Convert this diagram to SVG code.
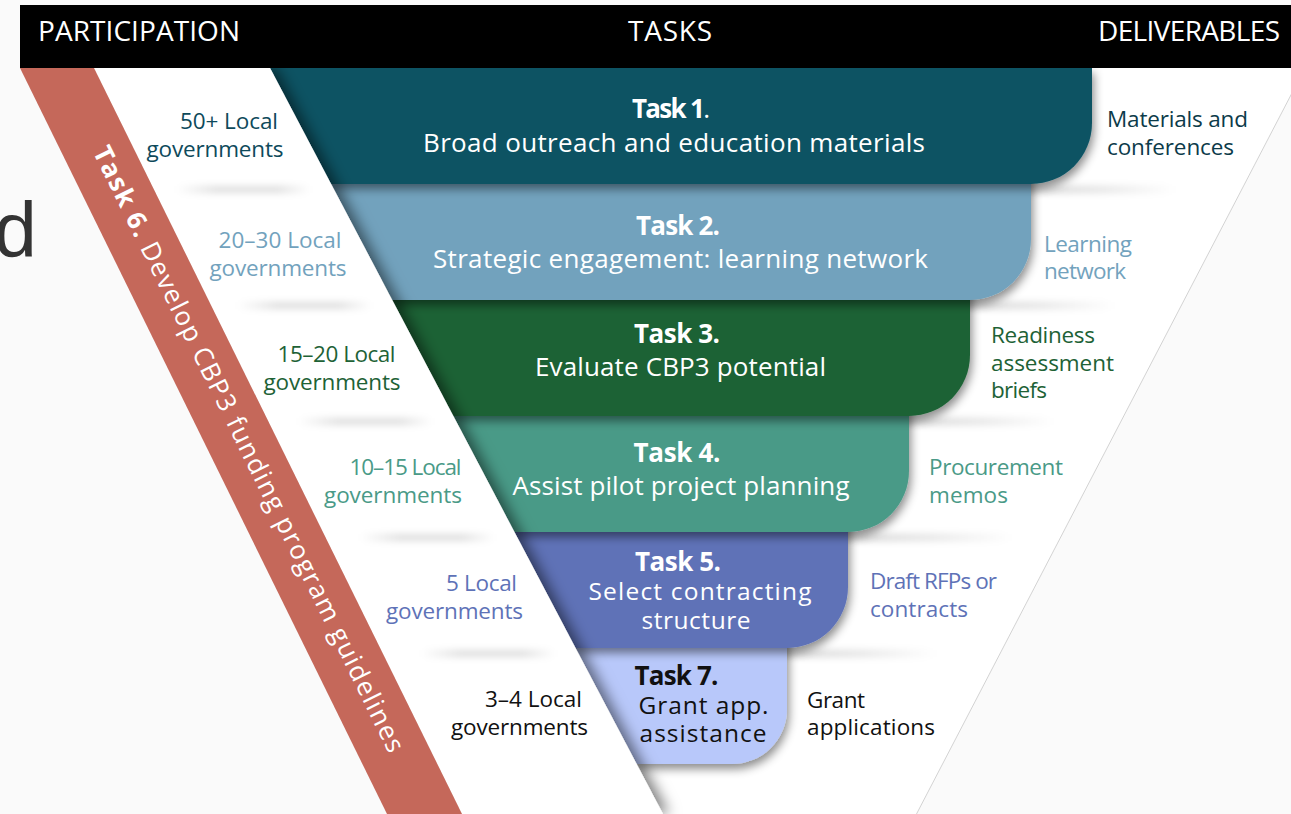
<svg xmlns="http://www.w3.org/2000/svg" width="1291" height="814" viewBox="0 0 1291 814">
  <defs>
    <style>
      .t { font-family: 'Open Sans', 'Noto Sans', 'DejaVu Sans', sans-serif; }
      .hd { font-size: 28px; fill: #ffffff; }
      .bx { font-size: 26px; fill: #ffffff; }
      .bs { font-size: 24.5px; fill: #ffffff; }
      .bb { font-size: 26px; font-weight: 700; fill: #ffffff; }
      .lb { font-size: 22.5px; }
      .k { fill: #111111; }
    </style>
    <filter id="boxShadow" x="-10%" y="-20%" width="125%" height="150%">
      <feDropShadow dx="2" dy="5" stdDeviation="5" flood-color="#000" flood-opacity="0.45"/>
    </filter>
    <filter id="bandShadow" x="-20%" y="-5%" width="150%" height="110%">
      <feDropShadow dx="6" dy="0" stdDeviation="7" flood-color="#000" flood-opacity="0.5"/>
    </filter>
    <filter id="soft" x="-50%" y="-300%" width="200%" height="700%">
      <feGaussianBlur stdDeviation="3.5"/>
    </filter>
    <linearGradient id="fadeL" x1="0" y1="0" x2="1" y2="0">
      <stop offset="0" stop-color="#000" stop-opacity="0"/>
      <stop offset="0.3" stop-color="#000" stop-opacity="0.13"/>
      <stop offset="0.75" stop-color="#000" stop-opacity="0.13"/>
      <stop offset="1" stop-color="#000" stop-opacity="0"/>
    </linearGradient>
    <linearGradient id="fadeR" x1="0" y1="0" x2="1" y2="0">
      <stop offset="0" stop-color="#000" stop-opacity="0.18"/>
      <stop offset="0.55" stop-color="#000" stop-opacity="0.1"/>
      <stop offset="1" stop-color="#000" stop-opacity="0"/>
    </linearGradient>
  </defs>

  <!-- background -->
  <rect x="0" y="0" width="1291" height="814" fill="#fafafa"/>
  <text x="-6" y="257" font-family="'Liberation Sans', Arial, sans-serif" font-size="77" fill="#333333">d</text>

  <!-- deliverables white funnel -->
  <polygon points="270,68 1305,68 916.5,814 663,814" fill="#ffffff"/>
  <line x1="1305" y1="68" x2="916.5" y2="814" stroke="#c8c8c8" stroke-width="0.8"/>

  <!-- row shadow strips (right) -->
  <g id="row-shadows-right">
    <rect x="1021" y="186" width="155" height="7" fill="url(#fadeR)" filter="url(#soft)"/>
    <rect x="960" y="302" width="155" height="7" fill="url(#fadeR)" filter="url(#soft)"/>
    <rect x="899" y="418" width="155" height="7" fill="url(#fadeR)" filter="url(#soft)"/>
    <rect x="838" y="534" width="175" height="7" fill="url(#fadeR)" filter="url(#soft)"/>
    <rect x="777" y="650" width="160" height="7" fill="url(#fadeR)" filter="url(#soft)"/>
  </g>

  <!-- task boxes (drawn bottom-up) -->
  <g id="task7" filter="url(#boxShadow)">
    <path d="M565.1,628 H787 V709 A55,55 0 0 1 732,764 H636.8 Z" fill="#b8c8fa"/>
  </g>
  <g id="task5" filter="url(#boxShadow)">
    <path d="M504,512 H848 V587 A61,61 0 0 1 787,648 H575.7 Z" fill="#5e72b7"/>
  </g>
  <g id="task4" filter="url(#boxShadow)">
    <path d="M442.9,396 H909 V471 A61,61 0 0 1 848,532 H514.5 Z" fill="#4a9a87"/>
  </g>
  <g id="task3" filter="url(#boxShadow)">
    <path d="M381.7,280 H970 V355 A61,61 0 0 1 909,416 H453.4 Z" fill="#1e6236"/>
  </g>
  <g id="task2" filter="url(#boxShadow)">
    <path d="M320.6,164 H1031 V239 A61,61 0 0 1 970,300 H392.3 Z" fill="#72a2bd"/>
  </g>
  <g id="task1" filter="url(#boxShadow)">
    <path d="M270,68 H1092 V123 A61,61 0 0 1 1031,184 H331.1 Z" fill="#0d5364"/>
  </g>

  <!-- participation white band -->
  <g id="participation-band">
    <polygon points="94,68 270,68 663,814 462,814" fill="#ffffff" filter="url(#bandShadow)"/>
  </g>

  <!-- row shadow strips (left) -->
  <g id="row-shadows-left">
    <rect x="176" y="186" width="135" height="7" fill="url(#fadeL)" filter="url(#soft)"/>
    <rect x="237" y="302" width="135" height="7" fill="url(#fadeL)" filter="url(#soft)"/>
    <rect x="298" y="418" width="135" height="7" fill="url(#fadeL)" filter="url(#soft)"/>
    <rect x="360" y="534" width="135" height="7" fill="url(#fadeL)" filter="url(#soft)"/>
    <rect x="421" y="650" width="135" height="7" fill="url(#fadeL)" filter="url(#soft)"/>
  </g>

  <!-- task 6 orange band -->
  <g id="task6">
    <polygon points="20,68 94,68 462,814 387,814" fill="#c5685a"/>
    <text class="t" transform="translate(249,449) rotate(63.8)" x="0" y="9" text-anchor="middle" font-size="26" fill="#ffffff" textLength="672"><tspan font-weight="700">Task 6.</tspan> Develop CBP3 funding program guidelines</text>
  </g>

  <!-- header -->
  <g id="header">
    <rect x="20" y="5" width="1271" height="63" fill="#000000"/>
    <text class="t hd" x="38" y="41" textLength="202">PARTICIPATION</text>
    <text class="t hd" x="628" y="41" textLength="84">TASKS</text>
    <text class="t hd" x="1098" y="41" textLength="182">DELIVERABLES</text>
  </g>

  <!-- task texts -->
  <g id="task1-text">
    <text class="t bb" x="632" y="118" textLength="78">Task 1<tspan font-weight="400">.</tspan></text>
    <text class="t bx" x="423" y="152" textLength="502">Broad outreach and education materials</text>
  </g>
  <g id="task2-text">
    <text class="t bb" x="636" y="235" textLength="84">Task 2.</text>
    <text class="t bx" x="433" y="268" textLength="495">Strategic engagement: learning network</text>
  </g>
  <g id="task3-text">
    <text class="t bb" x="634" y="342.5" textLength="86">Task 3.</text>
    <text class="t bx" x="535" y="376" textLength="291">Evaluate CBP3 potential</text>
  </g>
  <g id="task4-text">
    <text class="t bb" x="633.5" y="461.5" textLength="87">Task 4.</text>
    <text class="t bx" x="512.5" y="495" textLength="337">Assist pilot project planning</text>
  </g>
  <g id="task5-text">
    <text class="t bb" x="635" y="570.5" textLength="86">Task 5.</text>
    <text class="t bs" x="588.5" y="600" textLength="223">Select contracting</text>
    <text class="t bs" x="641.5" y="628.5" textLength="109">structure</text>
  </g>
  <g id="task7-text">
    <text class="t bb k" x="634.5" y="685" textLength="84">Task 7.</text>
    <text class="t bs k" x="638.5" y="713.5" textLength="130">Grant app.</text>
    <text class="t bs k" x="639.5" y="741.5" textLength="127">assistance</text>
  </g>

  <!-- participation labels -->
  <g id="participation-labels" class="t lb">
    <text x="180" y="129" fill="#0e4a5b" textLength="98">50+ Local</text>
    <text x="146.5" y="156.5" fill="#0e4a5b" textLength="137">governments</text>
    <text x="218.5" y="248" fill="#72a2bd" textLength="123">20–30 Local</text>
    <text x="209.5" y="275.5" fill="#72a2bd" textLength="137">governments</text>
    <text x="277.5" y="362" fill="#1e6236" textLength="118">15–20 Local</text>
    <text x="263.5" y="389.5" fill="#1e6236" textLength="137">governments</text>
    <text x="349.5" y="475" fill="#4a9a87" textLength="112">10–15 Local</text>
    <text x="324" y="502.5" fill="#4a9a87" textLength="138">governments</text>
    <text x="446" y="591" fill="#5e72b7" textLength="71">5 Local</text>
    <text x="386" y="618.5" fill="#5e72b7" textLength="137">governments</text>
    <text x="485" y="707" fill="#111111" textLength="97">3–4 Local</text>
    <text x="451" y="734.5" fill="#111111" textLength="137">governments</text>
  </g>

  <!-- deliverables labels -->
  <g id="deliverable-labels" class="t lb">
    <text x="1107" y="127" fill="#0c3b4a" textLength="141">Materials and</text>
    <text x="1107" y="155" fill="#0c3b4a" textLength="127">conferences</text>
    <text x="1044" y="252" fill="#72a2bd" textLength="88">Learning</text>
    <text x="1044" y="278.5" fill="#72a2bd" textLength="82">network</text>
    <text x="991" y="343" fill="#1e6236" textLength="104">Readiness</text>
    <text x="991" y="370.5" fill="#1e6236" textLength="123">assessment</text>
    <text x="991" y="398" fill="#1e6236" textLength="56">briefs</text>
    <text x="929" y="475" fill="#4a9a87" textLength="134">Procurement</text>
    <text x="929" y="503" fill="#4a9a87" textLength="79">memos</text>
    <text x="870" y="589" fill="#5e72b7" textLength="127">Draft RFPs or</text>
    <text x="870" y="617" fill="#5e72b7" textLength="98">contracts</text>
    <text x="807" y="708" fill="#111111" textLength="58">Grant</text>
    <text x="807" y="735" fill="#111111" textLength="128">applications</text>
  </g>
</svg>
